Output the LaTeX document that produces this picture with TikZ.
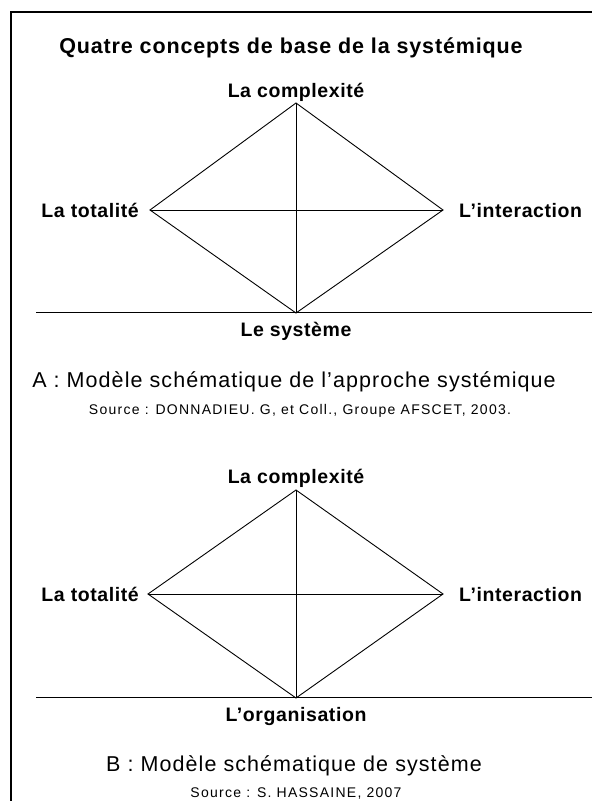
\documentclass[tikz,border=0pt]{standalone}
\usepackage{fontspec}
\setmainfont{Liberation Sans}
\usepackage{tikz}

\begin{document}
\begin{tikzpicture}[x=1pt,y=-1pt,
    titre/.style={inner sep=0pt,font=\fontsize{21.5}{24}\selectfont\bfseries\addfontfeatures{LetterSpace=4}},
    concept/.style={inner sep=0pt,font=\fontsize{19.5}{22}\selectfont\bfseries\addfontfeatures{LetterSpace=3}},
    legende/.style={inner sep=0pt,font=\fontsize{21.5}{24}\selectfont\addfontfeatures{LetterSpace=5}},
    sourcetxt/.style={inner sep=0pt,font=\fontsize{14}{16}\selectfont\addfontfeatures{LetterSpace=9}},
    arete/.style={line width=0.9pt}]
    \useasboundingbox (0,0) rectangle (592,801);
    \draw[line width=1.2pt] (592,12) -- (11,12) -- (11,801);

    \node[titre, anchor=base] (titre) at (291,53) {Quatre concepts de base de la systémique};

    % modele A
    \coordinate (Ahaut) at (296,103);
    \coordinate (Agauche) at (150,210);
    \coordinate (Adroite) at (443,210);
    \coordinate (Abas) at (296,313);
    \coordinate (Asol1) at (36,312);
    \coordinate (Asol2) at (592,312);
    \draw[arete] (Ahaut) -- (Adroite) -- (Abas) -- (Agauche) -- cycle;
    \draw[arete] (Ahaut) -- (Abas);
    \draw[arete] (Agauche) -- (Adroite);
    \draw[arete] (Asol1) -- (Asol2);

    \node[concept, anchor=base] (Acomplexite) at (296,97) {La complexité};
    \node[concept, anchor=base east] (Atotalite) at (139,217) {La totalité};
    \node[concept, anchor=base west] (Ainteraction) at (459,217) {L’interaction};
    \node[concept, anchor=base] (Asysteme) at (296,336) {Le système};
    \node[legende, anchor=base] (Alegende) at (294,387) {A : Modèle schématique de l’approche systémique};
    \node[sourcetxt, anchor=base] (Asource) at (300,414) {Source : DONNADIEU. G, et Coll., Groupe AFSCET, 2003.};

    % modele B
    \coordinate (Bhaut) at (296,490);
    \coordinate (Bgauche) at (148,594);
    \coordinate (Bdroite) at (443,594);
    \coordinate (Bbas) at (296,698);
    \coordinate (Bsol1) at (36,697);
    \coordinate (Bsol2) at (592,697);
    \draw[arete] (Bhaut) -- (Bdroite) -- (Bbas) -- (Bgauche) -- cycle;
    \draw[arete] (Bhaut) -- (Bbas);
    \draw[arete] (Bgauche) -- (Bdroite);
    \draw[arete] (Bsol1) -- (Bsol2);

    \node[concept, anchor=base] (Bcomplexite) at (296,483) {La complexité};
    \node[concept, anchor=base east] (Btotalite) at (139,601) {La totalité};
    \node[concept, anchor=base west] (Binteraction) at (459,601) {L’interaction};
    \node[concept, anchor=base] (Borganisation) at (296,721) {L’organisation};
    \node[legende, anchor=base] (Blegende) at (294,771) {B : Modèle schématique de système};
    \node[sourcetxt, anchor=base] (Bsource) at (296,797) {Source : S. HASSAINE, 2007};
\end{tikzpicture}
\end{document}
